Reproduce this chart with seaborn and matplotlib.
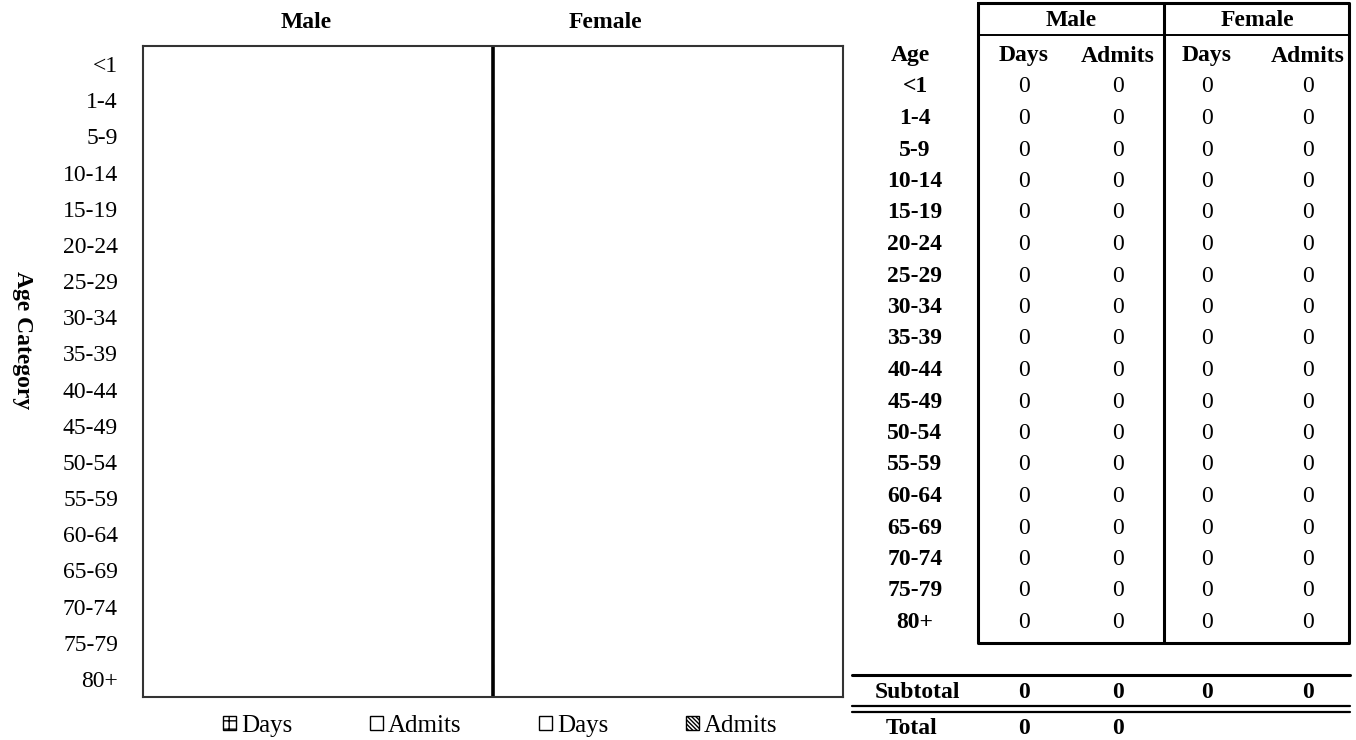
import pandas as pd
import matplotlib.pyplot as plt
import seaborn as sns
from matplotlib.patches import Patch

# ---- dados ----
ages = ["<1", "1-4", "5-9", "10-14", "15-19", "20-24", "25-29", "30-34", "35-39",
        "40-44", "45-49", "50-54", "55-59", "60-64", "65-69", "70-74", "75-79", "80+"]
male_days = [0, 0, 0, 0, 0, 0, 0, 0, 0, 0, 0, 0, 0, 0, 0, 0, 0, 0]
male_admits = [0, 0, 0, 0, 0, 0, 0, 0, 0, 0, 0, 0, 0, 0, 0, 0, 0, 0]
female_days = [0, 0, 0, 0, 0, 0, 0, 0, 0, 0, 0, 0, 0, 0, 0, 0, 0, 0]
female_admits = [0, 0, 0, 0, 0, 0, 0, 0, 0, 0, 0, 0, 0, 0, 0, 0, 0, 0]
series_names = ["Male Days", "Male Admits", "Female Days", "Female Admits"]
legend_labels = ["Days", "Admits", "Days", "Admits"]
hatches = ["++", "", "", "\\\\\\\\\\\\\\\\"]

# formato longo (homens para a esquerda)
df = pd.concat([
    pd.DataFrame({"age": ages, "series": "Male Days", "value": [-v for v in male_days]}),
    pd.DataFrame({"age": ages, "series": "Male Admits", "value": [-v for v in male_admits]}),
    pd.DataFrame({"age": ages, "series": "Female Days", "value": female_days}),
    pd.DataFrame({"age": ages, "series": "Female Admits", "value": female_admits}),
])

W, H = 1356, 740
sns.set_style("white")
plt.rcParams["font.family"] = ["Liberation Serif", "DejaVu Serif"]
plt.rcParams["text.color"] = "black"
plt.rcParams["axes.labelcolor"] = "black"
plt.rcParams["ytick.color"] = "black"
plt.rcParams["xtick.color"] = "black"
FS = 17

fig = plt.figure(figsize=(W / 100, H / 100), dpi=100)
ax = fig.add_axes([143 / W, 1 - 697 / H, 700 / W, 651 / H])

sns.barplot(data=df, x="value", y="age", hue="series", hue_order=series_names,
            order=ages, orient="h", palette=["white"] * 4, edgecolor="black",
            linewidth=0.8, legend=False, ax=ax)
for cont, h in zip(ax.containers, hatches):
    for bar in cont:
        bar.set_hatch(h)

lim = max(1, max(map(abs, df["value"])))
ax.set_xlim(-lim, lim)
ax.axvline(0, color="black", lw=2.6)
ax.set_xticks([])
ax.set_xlabel("")
ax.set_ylabel("")
ax.tick_params(axis="y", length=0, pad=18, labelsize=FS)
for s in ax.spines.values():
    s.set_color("#333333")
    s.set_linewidth(1.5)

fig.text(22 / W, 1 - 340 / H, "Age Category", rotation=-90, fontweight="bold",
         fontsize=FS, ha="center", va="center")
fig.text(306 / W, 1 - 22 / H, "Male", fontweight="bold", fontsize=FS, ha="center", va="center")
fig.text(605 / W, 1 - 22 / H, "Female", fontweight="bold", fontsize=FS, ha="center", va="center")

handles = [Patch(facecolor="white", edgecolor="black", hatch=h, label=l)
           for h, l in zip(hatches, legend_labels)]
fig.legend(handles=handles, loc="center", bbox_to_anchor=(500 / W, 1 - 726 / H), ncol=4,
           frameon=False, fontsize=FS + 1, handlelength=0.52, handleheight=0.52,
           handletextpad=0.2, columnspacing=3.1)

# ---- tabela ----
tab = fig.add_axes([0, 0, 1, 1])
tab.set_xlim(0, W)
tab.set_ylim(H, 0)
tab.axis("off")

age_x = 915
cols = [1024, 1118, 1207, 1308]
row0, pitch = 87, 31.5

tab.text(910, 56, "Age", fontweight="bold", fontsize=FS, ha="center", va="center")
for x, lab in zip(cols, ["Days", "Admits", "Days", "Admits"]):
    tab.text(x, 56, lab, fontweight="bold", fontsize=FS, ha="center", va="center")
tab.text(1071, 20, "Male", fontweight="bold", fontsize=FS, ha="center", va="center")
tab.text(1257, 20, "Female", fontweight="bold", fontsize=FS, ha="center", va="center")

columns = [male_days, male_admits, female_days, female_admits]
for i, age in enumerate(ages):
    y = row0 + i * pitch
    tab.text(age_x, y, age, fontweight="bold", fontsize=FS, ha="center", va="center")
    for x, col in zip(cols, columns):
        tab.text(x, y, f"{col[i]}", fontsize=FS, ha="center", va="center")

# bordas
tab.plot([978, 1349, 1349, 978, 978], [3, 3, 643, 643, 3], color="black", lw=2.2)
tab.plot([1164, 1164], [3, 643], color="black", lw=2.2)
tab.plot([978, 1349], [35, 35], color="black", lw=1.4)

# subtotal / total
tab.plot([852, 1350], [675, 675], color="black", lw=2.2)
tab.text(917, 692, "Subtotal", fontweight="bold", fontsize=FS, ha="center", va="center")
for x, col in zip(cols, columns):
    tab.text(x, 692, f"{sum(col)}", fontweight="bold", fontsize=FS, ha="center", va="center")
tab.plot([852, 1350], [706, 706], color="black", lw=1.6)
tab.plot([852, 1350], [712, 712], color="black", lw=1.6)
tab.text(912, 728, "Total", fontweight="bold", fontsize=FS, ha="center", va="center")
tab.text(cols[0], 728, f"{sum(male_days) + sum(female_days)}", fontweight="bold",
         fontsize=FS, ha="center", va="center")
tab.text(cols[1], 728, f"{sum(male_admits) + sum(female_admits)}", fontweight="bold",
         fontsize=FS, ha="center", va="center")

fig.savefig("out.png", dpi=100)
